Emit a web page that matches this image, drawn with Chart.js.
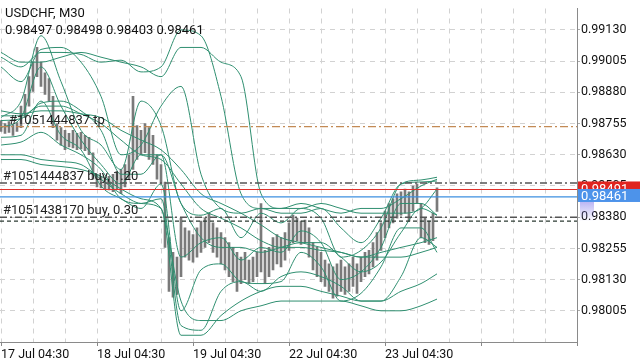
<!DOCTYPE html>
<html>
<head>
<meta charset="utf-8">
<script src="https://cdn.jsdelivr.net/npm/chart.js@4.4.0/dist/chart.umd.min.js"></script>
<style>
  html, body { margin: 0; padding: 0; background: #fff; }
  #wrap { width: 640px; height: 360px; }
</style>
</head>
<body>
<div id="wrap"><canvas id="chart"></canvas></div>
<script>
// header texts
const symbol = 'USDCHF, M30';
const ohlcText = '0.98497 0.98498 0.98403 0.98461';

// axes
const dateLabels = ['17 Jul 04:30', '18 Jul 04:30', '19 Jul 04:30', '22 Jul 04:30', '23 Jul 04:30'];
const priceTicks = [0.98005, 0.98130, 0.98255, 0.98380, 0.98505, 0.98630, 0.98755, 0.98880, 0.99005, 0.99130];

// candles (one entry per hour, x = M30 bar index)
const highs = [0.98767,0.98755,0.98763,0.98751,0.98759,0.98825,0.98872,0.98943,0.99001,0.99060,
  0.99001,0.98958,0.98935,0.98864,0.98755,0.98739,0.98728,0.98716,0.98728,0.98716,
  0.98720,0.98708,0.98700,0.98638,0.98552,0.98544,0.98532,0.98544,0.98552,0.98560,
  0.98571,0.98591,0.98630,0.98864,0.98747,0.98728,0.98755,0.98739,0.98708,0.98630,
  0.98591,0.98521,0.98298,0.98239,0.98220,0.98376,0.98337,0.98325,0.98310,0.98337,
  0.98364,0.98376,0.98396,0.98357,0.98337,0.98318,0.98298,0.98278,0.98259,0.98239,
  0.98220,0.98239,0.98208,0.98220,0.98239,0.98435,0.98247,0.98259,0.98298,0.98310,
  0.98298,0.98318,0.98357,0.98388,0.98376,0.98364,0.98368,0.98337,0.98278,0.98259,
  0.98239,0.98208,0.98193,0.98181,0.98193,0.98208,0.98181,0.98193,0.98220,0.98193,
  0.98220,0.98239,0.98247,0.98278,0.98318,0.98357,0.98404,0.98435,0.98454,0.98474,
  0.98482,0.98493,0.98482,0.98505,0.98513,0.98435,0.98376,0.98364,0.98396,0.98498];
const lows = [0.98724,0.98716,0.98720,0.98708,0.98724,0.98739,0.98779,0.98825,0.98884,0.98943,
  0.98904,0.98872,0.98845,0.98739,0.98689,0.98669,0.98650,0.98661,0.98657,0.98650,
  0.98653,0.98646,0.98630,0.98532,0.98501,0.98497,0.98493,0.98489,0.98482,0.98493,
  0.98474,0.98501,0.98532,0.98571,0.98611,0.98630,0.98638,0.98611,0.98591,0.98532,
  0.98513,0.98259,0.98083,0.98060,0.98071,0.98142,0.98220,0.98208,0.98200,0.98220,
  0.98239,0.98259,0.98278,0.98239,0.98220,0.98193,0.98169,0.98142,0.98122,0.98083,
  0.98114,0.98130,0.98114,0.98122,0.98142,0.98161,0.98114,0.98142,0.98169,0.98193,
  0.98181,0.98208,0.98247,0.98278,0.98286,0.98271,0.98278,0.98220,0.98169,0.98142,
  0.98122,0.98103,0.98083,0.98056,0.98064,0.98083,0.98071,0.98083,0.98103,0.98075,
  0.98122,0.98142,0.98153,0.98181,0.98208,0.98247,0.98298,0.98337,0.98357,0.98376,
  0.98388,0.98396,0.98364,0.98404,0.98435,0.98298,0.98278,0.98271,0.98286,0.98403];

// bollinger band lines, sampled at these bar indexes
const bandX = [0,10,20,30,40,50,60,70,80,90,100,110,120,130,140,150,160,170,180,190,200,210,218];
const upFast  = [0.98779,0.98845,0.99107,0.98923,0.98728,0.98669,0.98571,0.98845,0.98747,0.98435,0.98388,0.98415,0.98298,0.98396,0.98357,0.98415,0.98376,0.98220,0.98247,0.98337,0.98513,0.98529,0.98540];
const midFast = [0.98739,0.98779,0.98982,0.98825,0.98689,0.98591,0.98513,0.98630,0.98630,0.98220,0.98278,0.98298,0.98208,0.98259,0.98239,0.98325,0.98278,0.98130,0.98161,0.98259,0.98435,0.98435,0.98388];
const lowFast = [0.98700,0.98708,0.98845,0.98708,0.98650,0.98505,0.98454,0.98415,0.98513,0.98005,0.98169,0.98193,0.98122,0.98114,0.98122,0.98239,0.98181,0.98044,0.98075,0.98181,0.98337,0.98337,0.98239];
const upMed   = [0.98982,0.98923,0.99052,0.99060,0.99001,0.98864,0.98630,0.98669,0.98825,0.98904,0.98552,0.98415,0.98396,0.98415,0.98396,0.98396,0.98415,0.98337,0.98278,0.98376,0.98513,0.98521,0.98525];
const midMed  = [0.98767,0.98775,0.98837,0.98845,0.98806,0.98728,0.98552,0.98552,0.98630,0.98435,0.98298,0.98259,0.98259,0.98239,0.98259,0.98278,0.98278,0.98220,0.98161,0.98200,0.98318,0.98415,0.98388];
const lowMed  = [0.98669,0.98681,0.98720,0.98669,0.98630,0.98571,0.98454,0.98435,0.98454,0.97946,0.97927,0.98083,0.98122,0.98083,0.98142,0.98161,0.98142,0.98103,0.98044,0.98044,0.98142,0.98298,0.98259];
const upSlow  = [0.99021,0.98982,0.99040,0.99040,0.99032,0.99001,0.99009,0.98962,0.98982,0.99130,0.99107,0.98864,0.98474,0.98415,0.98415,0.98435,0.98415,0.98396,0.98415,0.98415,0.98454,0.98505,0.98532];
const midSlow = [0.98786,0.98786,0.98825,0.98825,0.98794,0.98755,0.98689,0.98630,0.98611,0.98513,0.98415,0.98376,0.98337,0.98286,0.98259,0.98259,0.98247,0.98239,0.98220,0.98239,0.98259,0.98278,0.98298];
const lowSlow = [0.98630,0.98630,0.98611,0.98603,0.98591,0.98532,0.98474,0.98435,0.98415,0.97907,0.97907,0.97986,0.98044,0.98083,0.98103,0.98103,0.98083,0.98064,0.98044,0.98044,0.98083,0.98114,0.98153];
const upLong  = [0.99040,0.99001,0.99001,0.99021,0.99040,0.99021,0.99001,0.98982,0.98943,0.99060,0.99060,0.99001,0.98943,0.98474,0.98415,0.98415,0.98435,0.98415,0.98396,0.98396,0.98396,0.98415,0.98493];
const midLong = [0.98806,0.98794,0.98806,0.98806,0.98794,0.98779,0.98728,0.98689,0.98650,0.98571,0.98474,0.98435,0.98396,0.98349,0.98298,0.98278,0.98259,0.98239,0.98220,0.98220,0.98220,0.98239,0.98259];
const lowLong = [0.98611,0.98611,0.98591,0.98583,0.98571,0.98544,0.98493,0.98454,0.98415,0.98044,0.97966,0.97966,0.98005,0.98025,0.98044,0.98044,0.98044,0.98044,0.98025,0.98005,0.98005,0.98025,0.98052];

// order / price levels
const tpPrice = 0.98743;
const buyPrice1 = 0.98517;
const askPrice = 0.98491;
const bidPrice = 0.98461;
const buyPrice2 = 0.98380;
const slPrice = 0.98364;
const tpLabel = '#1051444837 tp';
const buyLabel1 = '#1051444837 buy, 1.20';
const buyLabel2 = '#1051438170 buy, 0.30';

const FONT = 'Roboto, "Noto Sans", sans-serif';
const GREEN = '#2f8f70';
const X_MAX = 288;

function band(arr) {
  return {
    type: 'line',
    data: bandX.map((x, i) => ({ x: x, y: arr[i] })),
    borderColor: GREEN,
    borderWidth: 1,
    pointRadius: 0,
    cubicInterpolationMode: 'monotone',
    fill: false,
    order: 1
  };
}

function level(price, color, dash, width) {
  return {
    type: 'line',
    data: [{ x: -0.5, y: price }, { x: X_MAX, y: price }],
    borderColor: color,
    borderWidth: width,
    borderDash: dash,
    pointRadius: 0,
    fill: false,
    order: 0
  };
}

const overlay = {
  id: 'overlay',
  afterDatasetsDraw(chart) {
    const ctx = chart.ctx;
    const y = chart.scales.y;
    ctx.save();
    ctx.fillStyle = '#111';
    ctx.textBaseline = 'alphabetic';
    ctx.font = '13px ' + FONT;
    ctx.fillText(symbol, 5, 17);
    ctx.fillText(ohlcText, 5, 34);
    ctx.fillStyle = '#222';
    ctx.fillText(tpLabel, 9, y.getPixelForValue(tpPrice) - 3);
    ctx.fillText(buyLabel1, 3, y.getPixelForValue(buyPrice1) - 3);
    ctx.fillText(buyLabel2, 3, y.getPixelForValue(buyPrice2) - 3);
    ctx.restore();
  },
  afterDraw(chart) {
    const ctx = chart.ctx;
    const y = chart.scales.y;
    const left = chart.chartArea.right + 1;
    ctx.save();
    ctx.font = '13px ' + FONT;
    ctx.textBaseline = 'middle';
    const ya = y.getPixelForValue(askPrice) - 1;
    ctx.fillStyle = '#e0241f';
    ctx.fillRect(left, ya - 7, 640 - left, 13);
    ctx.fillStyle = '#fff';
    ctx.fillText(askPrice.toFixed(5), left + 3, ya + 1);
    const yb = y.getPixelForValue(bidPrice) - 1.5;
    const g = ctx.createLinearGradient(0, yb + 6, 0, yb + 26);
    g.addColorStop(0, 'rgba(130,120,235,0.55)');
    g.addColorStop(1, 'rgba(130,120,235,0)');
    ctx.fillStyle = g;
    ctx.fillRect(left + 2, yb + 6, 14, 20);
    ctx.fillStyle = '#4d93ea';
    ctx.fillRect(left, yb - 6.5, 640 - left, 13);
    ctx.fillStyle = '#fff';
    ctx.fillText(bidPrice.toFixed(5), left + 3, yb + 1);
    ctx.restore();
  }
};

new Chart(document.getElementById('chart'), {
  type: 'line',
  data: {
    datasets: [
      {
        type: 'bar',
        data: highs.map((h, i) => ({ x: i * 2, y: [lows[i], h] })),
        backgroundColor: '#7a7a7a',
        barThickness: 2,
        grouped: false,
        order: 2
      },
      band(upFast), band(midFast), band(lowFast),
      band(upMed), band(midMed), band(lowMed),
      band(upSlow), band(midSlow), band(lowSlow),
      band(upLong), band(midLong), band(lowLong),
      level(tpPrice, '#c38a55', [8, 3, 2, 3], 1.2),
      level(buyPrice1, '#555', [7, 3, 2, 3], 1.5),
      level(askPrice, '#e0302a', [], 1.2),
      level(bidPrice, '#3d8fe0', [], 1.2),
      level(buyPrice2, '#555', [7, 3, 2, 3], 1.5),
      level(slPrice, '#2d3b33', [4, 3], 1.3)
    ]
  },
  options: {
    responsive: true,
    maintainAspectRatio: false,
    animation: false,
    layout: { padding: 0 },
    plugins: { legend: { display: false }, tooltip: { enabled: false } },
    scales: {
      x: {
        type: 'linear',
        offset: false,
        min: -0.5,
        max: X_MAX,
        afterBuildTicks: (axis) => {
          const t = [];
          for (let v = 0; v <= X_MAX; v += 16) t.push({ value: v });
          axis.ticks = t;
        },
        afterFit: (axis) => { axis.height = 18; },
        ticks: {
          autoSkip: false,
          maxRotation: 0,
          align: 'start',
          padding: 1,
          color: '#111',
          font: { family: FONT, size: 12.5 },
          callback: (v) => (v % 48 === 0 && dateLabels[v / 48]) ? dateLabels[v / 48] : ''
        },
        grid: {
          offset: false,
          color: '#d2d2d2',
          tickLength: 4,
          tickColor: (c) => (c.tick && c.tick.value % 48 === 0) ? '#888' : 'rgba(0,0,0,0)'
        },
        border: { color: '#8a8a8a', width: 1, dash: [5, 5] }
      },
      y: {
        position: 'right',
        min: 0.97880,
        max: 0.99216,
        afterBuildTicks: (axis) => { axis.ticks = priceTicks.map(v => ({ value: v })); },
        afterFit: (axis) => { axis.width = 63; },
        ticks: {
          padding: 1,
          color: '#111',
          font: { family: FONT, size: 12.5 },
          callback: (v) => Number(v).toFixed(5)
        },
        grid: { color: '#d2d2d2', tickLength: 3, tickColor: '#aaa' },
        border: { color: '#8a8a8a', width: 1, dash: [5, 5] }
      }
    }
  },
  plugins: [overlay]
});
</script>
</body>
</html>
